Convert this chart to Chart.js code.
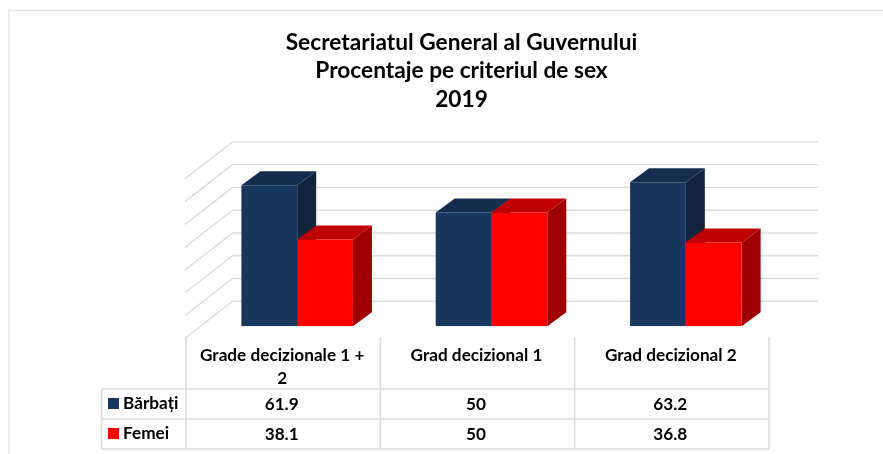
<!DOCTYPE html>
<html><head><meta charset="utf-8">
<style>html,body{margin:0;padding:0;background:#fff}#w{position:relative;width:883px;height:454px}canvas{display:block}</style>
<script src="https://cdn.jsdelivr.net/npm/chart.js@4/dist/chart.umd.min.js"></script>
</head><body><div id="w"><canvas id="c" width="883" height="454"></canvas></div>
<script>
const titleLines = ["Secretariatul General al Guvernului","Procentaje pe criteriul de sex","2019"];
const categories = ["Grade decizionale 1 + 2","Grad decizional 1","Grad decizional 2"];
const seriesNames = ["Bărbați","Femei"];
const barbati = [61.9,50,63.2];
const femei = [38.1,50,36.8];
const valueLabels = [["61.9","50","63.2"],["38.1","50","36.8"]];
const frontColors = ["#17375E","#FF0000"];
const topColors = ["#142D4E","#BF0000"];
const sideColors = ["#10243E","#9E0000"];
const yTicks = [0,10,20,30,40,50,60,70];
const FONT = "Lato, 'Open Sans', sans-serif";
const GRID = "#DCDCDC";
const DEPTH_X = 19, DEPTH_Y = 14;

function line(ctx,x1,y1,x2,y2){ctx.beginPath();ctx.moveTo(x1,y1);ctx.lineTo(x2,y2);ctx.stroke();}
function poly(ctx,pts,fill){ctx.fillStyle=fill;ctx.beginPath();pts.forEach((p,i)=>i?ctx.lineTo(p[0],p[1]):ctx.moveTo(p[0],p[1]));ctx.closePath();ctx.fill();}

const threeD = {
  id:"threeD",
  beforeDatasetsDraw(chart){
    const ctx=chart.ctx,y=chart.scales.y;
    ctx.save();
    ctx.strokeStyle=GRID;ctx.lineWidth=1.4;
    yTicks.forEach(v=>{
      const py=y.getPixelForValue(v);
      line(ctx,185,py+12,232.5,py-25);
      line(ctx,232.5,py-25,818,py-25);
    });
    [0,1].forEach(ds=>{
      chart.getDatasetMeta(ds).data.forEach(b=>{
        const p=b.getProps(["x","y","base","width"],true);
        const l=p.x-p.width/2,r=p.x+p.width/2;
        poly(ctx,[[r,p.y],[r+DEPTH_X,p.y-DEPTH_Y],[r+DEPTH_X,p.base-DEPTH_Y],[r,p.base]],sideColors[ds]);
        poly(ctx,[[l,p.y],[l+DEPTH_X,p.y-DEPTH_Y],[r+DEPTH_X,p.y-DEPTH_Y],[r,p.y]],topColors[ds]);
      });
    });
    ctx.restore();
  },
  afterDraw(chart){
    const ctx=chart.ctx,xs=chart.scales.x;
    ctx.save();
    ctx.strokeStyle="#E4E4E4";ctx.lineWidth=1.4;
    line(ctx,9,10.5,883,10.5);line(ctx,9,10,9,454);
    const step=xs.getPixelForValue(1)-xs.getPixelForValue(0);
    const colX=[0,1,2].map(i=>xs.getPixelForValue(i)-step/2-14);
    const right=colX[2]+step,left=101.7,rows=[389,419,449];
    ctx.strokeStyle=GRID;ctx.lineWidth=1.6;
    colX.concat([right]).forEach(x=>line(ctx,x,337,x,449));
    line(ctx,left,389,left,449);
    rows.forEach(r=>line(ctx,left,r,right,r));
    ctx.textBaseline="middle";
    ctx.font="bold 17.2px "+FONT;
    seriesNames.forEach((n,s)=>{
      const cy=(rows[s]+rows[s+1])/2;
      ctx.fillStyle=frontColors[s];ctx.fillRect(108,cy-6,11,11);
      ctx.fillStyle="#000";ctx.textAlign="left";ctx.fillText(n,123,cy-1);
      ctx.textAlign="center";
      valueLabels[s].forEach((t,i)=>ctx.fillText(t,colX[i]+step/2-1.5,cy));
    });
    ctx.restore();
  }
};

new Chart(document.getElementById("c"),{
  type:"bar",
  data:{labels:categories,datasets:[
    {label:seriesNames[0],data:barbati,backgroundColor:frontColors[0],yAxisID:"y"},
    {label:seriesNames[1],data:femei,backgroundColor:frontColors[1],yAxisID:"y"}
  ]},
  options:{
    responsive:false,animation:false,
    layout:{padding:{left:40,right:0,top:28,bottom:0}},
    datasets:{bar:{barPercentage:1,categoryPercentage:0.574}},
    plugins:{
      legend:{display:false},tooltip:{enabled:false},
      title:{display:true,text:titleLines,color:"#000",align:"center",
        font:{family:FONT,size:22.7,weight:"bold",lineHeight:1.255},padding:{top:0,bottom:53.4}}
    },
    scales:{
      x:{grid:{display:false,drawTicks:false},border:{display:false},
        afterFit(s){s.height=127.7;},
        ticks:{color:"#000",font:{family:FONT,size:17.2,weight:"bold",lineHeight:1.34},
          labelOffset:-15,padding:18,maxRotation:0,autoSkip:false,
          callback(v,i){return i===0?["Grade decizionale 1 +","2"]:categories[i];}}},
      y:{min:0,max:70,ticks:{display:false,stepSize:10},grid:{display:false},border:{display:false},afterFit(s){s.width=160;}},
      y2:{type:"linear",position:"right",ticks:{display:false},grid:{display:false},border:{display:false},afterFit(s){s.width=100;}}
    }
  },
  plugins:[threeD]
});
</script></body></html>
